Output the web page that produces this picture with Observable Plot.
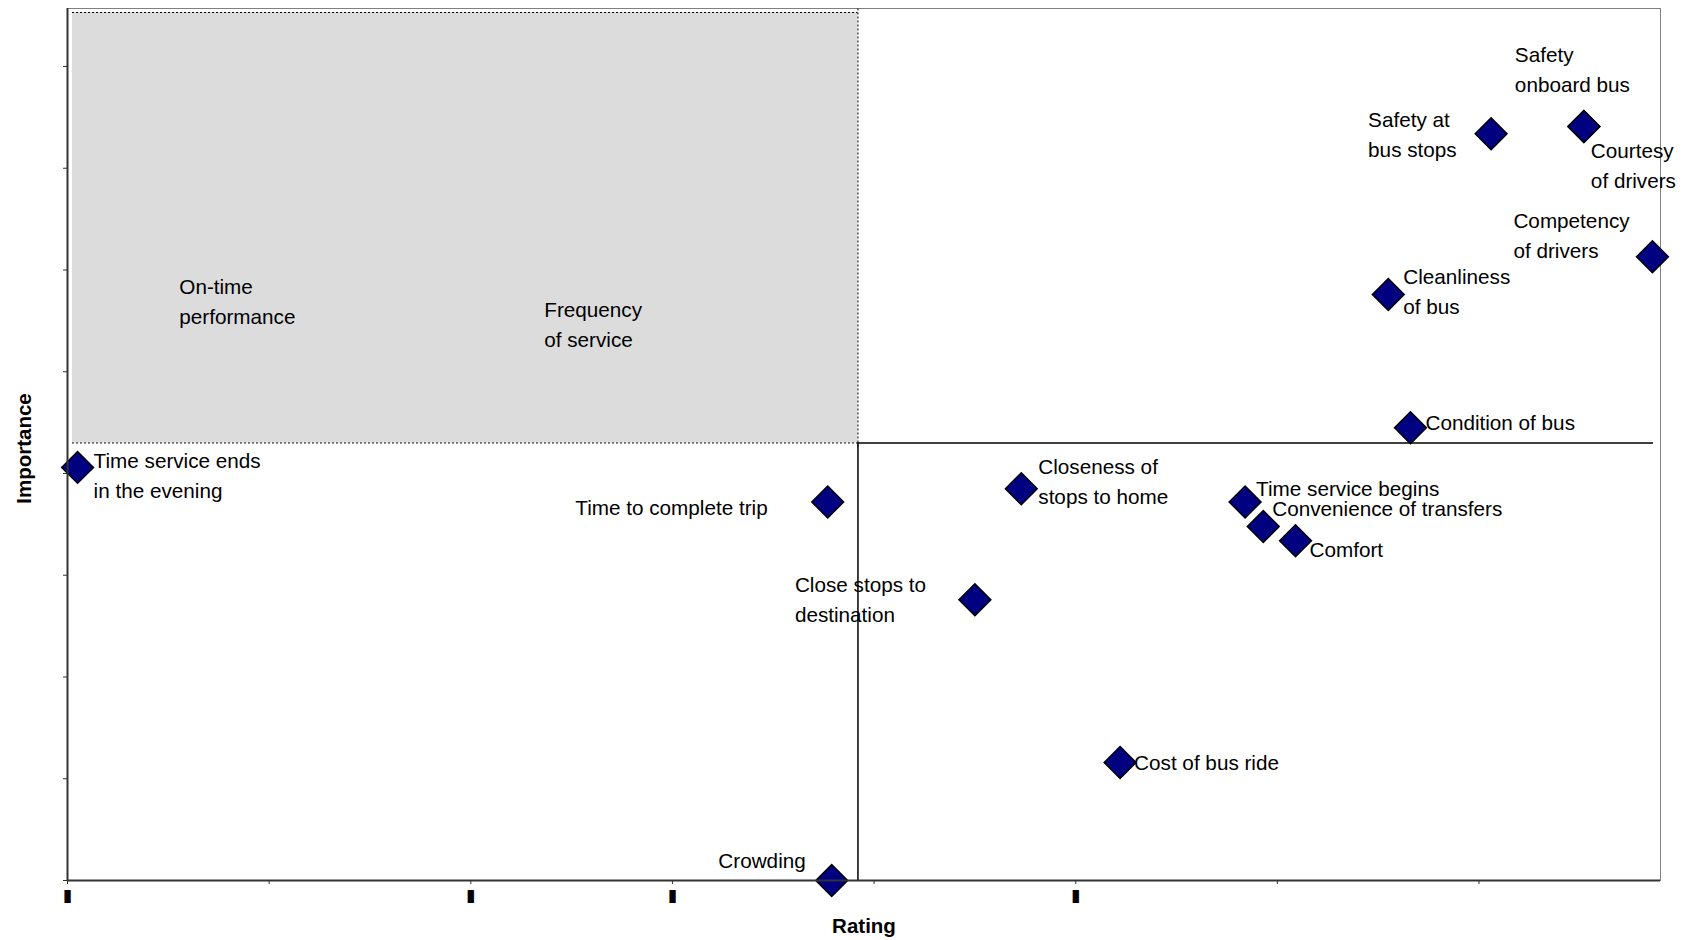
<!DOCTYPE html>
<html>
<head>
<meta charset="utf-8">
<script src="https://cdn.jsdelivr.net/npm/d3@7"></script>
<script src="https://cdn.jsdelivr.net/npm/@observablehq/plot@0.6"></script>
<style>
  body { margin: 0; background: #fff; }
  svg { display: block; }
</style>
</head>
<body>
<div id="chart"></div>
<script>
// Service attributes: performance rating vs. importance to riders
const attributes = [
  "On-time\nperformance",
  "Frequency\nof service",
  "Time service ends\nin the evening",
  "Time to complete trip",
  "Crowding",
  "Close stops to\ndestination",
  "Closeness of\nstops to home",
  "Cost of bus ride",
  "Time service begins",
  "Convenience of transfers",
  "Comfort",
  "Condition of bus",
  "Cleanliness\nof bus",
  "Safety at\nbus stops",
  "Safety\nonboard bus",
  "Courtesy\nof drivers",
  "Competency\nof drivers"
];
const rating = [0.48, 2.28, 0.05, 3.77, 3.79, 4.50, 4.73, 5.22, 5.84, 5.93, 6.09, 6.66, 6.55, 7.06, 7.52, 7.52, 7.86];
const importance = [5.67, 5.46, 4.06, 3.72, 0.00, 2.76, 3.85, 1.16, 3.72, 3.48, 3.34, 4.45, 5.76, 7.34, 7.41, 7.41, 6.13];

// Quadrant dividers (average rating / average importance)
const ratingMid = 3.92;
const importanceMid = 4.30;

// Axis extents and tick values
const xDomain = [0, 7.9];
const yDomain = [0, 8.57];
const xTicks = [0, 1, 2, 3, 4, 5, 6, 7];
const yTicks = [0, 1, 2, 3, 4, 5, 6, 7, 8];
const xTickLabels = ["▮", "", "▮", "▮", "", "▮", "", ""];

const points = attributes.map((name, i) => ({name, rating: rating[i], importance: importance[i]}));

// Where each label sits relative to its marker: [dx, dy, anchor]
const placement = {
  "On-time\nperformance": [15, -4, "start"],
  "Frequency\nof service": [17, -3, "start"],
  "Time service ends\nin the evening": [16, 6, "start"],
  "Time to complete trip": [-60, 3.5, "end"],
  "Crowding": [-26, -22, "end"],
  "Close stops to\ndestination": [-180, -2, "start"],
  "Closeness of\nstops to home": [17, -9.5, "start"],
  "Cost of bus ride": [14, -2, "start"],
  "Time service begins": [11, -16, "start"],
  "Convenience of transfers": [9, -20.5, "start"],
  "Comfort": [14, 6.5, "start"],
  "Condition of bus": [15, -7, "start"],
  "Cleanliness\nof bus": [15, -5, "start"],
  "Safety at\nbus stops": [-123, -1, "start"],
  "Safety\nonboard bus": [-69, -59, "start"],
  "Courtesy\nof drivers": [7, 37, "start"],
  "Competency\nof drivers": [-139, -23, "start"]
};

const dash = "2,2";
const labelMarks = points.map(d => {
  const [dx, dy, anchor] = placement[d.name];
  return Plot.text([d], {
    x: "rating", y: "importance", text: "name",
    dx, dy, textAnchor: anchor, lineAnchor: "middle", lineHeight: 1.45,
    fill: "#000"
  });
});

const chart = Plot.plot({
  width: 1694,
  height: 940,
  marginLeft: 67,
  marginRight: 34,
  marginTop: 8,
  marginBottom: 60,
  style: {
    fontFamily: "'Liberation Sans', Arial, sans-serif",
    fontSize: "20.7px",
    background: "#fff",
    overflow: "visible"
  },
  x: {domain: xDomain, label: null},
  y: {domain: yDomain, label: null},
  marks: [
    Plot.frame({stroke: "#808080"}),
    // markers (those in the upper-left quadrant end up under its shading)
    Plot.dot(points, {
      x: "rating", y: "importance", symbol: "diamond2", r: 14.4,
      fill: "#000080", stroke: "#000", strokeWidth: 1.4
    }),
    // shaded "concentrate here" quadrant
    Plot.rect([0], {
      x1: xDomain[0], x2: ratingMid, y1: importanceMid, y2: yDomain[1],
      insetLeft: 5, insetTop: 4, fill: "#dcdcdc"
    }),
    Plot.ruleY([yDomain[1]], {x1: xDomain[0], x2: ratingMid, insetLeft: 5, dy: 4, stroke: "#000", strokeDasharray: dash}),
    Plot.ruleY([importanceMid], {x1: xDomain[0], x2: ratingMid, insetLeft: 5, stroke: "#000", strokeDasharray: dash}),
    Plot.ruleX([ratingMid], {y1: importanceMid, y2: yDomain[1], insetTop: 4, stroke: "#000", strokeDasharray: dash}),
    // solid quadrant dividers
    Plot.ruleX([ratingMid], {y1: yDomain[0], y2: importanceMid, stroke: "#000", strokeWidth: 1.5}),
    Plot.ruleY([importanceMid], {x1: ratingMid, x2: xDomain[1], insetRight: 7, stroke: "#000", strokeWidth: 1.5}),
    // axes
    Plot.ruleX([xDomain[0]], {stroke: "#333", strokeWidth: 2}),
    Plot.ruleY([yDomain[0]], {stroke: "#333", strokeWidth: 2}),
    Plot.axisX({
      ticks: xTicks, tickSize: 4, tickPadding: 4, stroke: "#333",
      tickFormat: (d, i) => xTickLabels[i], fontSize: 17, fontFamily: "DejaVu Sans"
    }),
    Plot.axisY({ticks: yTicks, tickSize: 4, stroke: "#333", tickFormat: () => ""}),
    ...labelMarks,
    Plot.text(["Rating"], {frameAnchor: "bottom", dy: 46, fontWeight: "bold", fontSize: 20.5, lineAnchor: "middle"}),
    Plot.text(["Importance"], {
      frameAnchor: "left", rotate: -90, dx: -43, dy: 4,
      textAnchor: "middle", lineAnchor: "middle", fontWeight: "bold", fontSize: 20.5
    })
  ]
});

document.getElementById("chart").append(chart);
</script>
</body>
</html>
